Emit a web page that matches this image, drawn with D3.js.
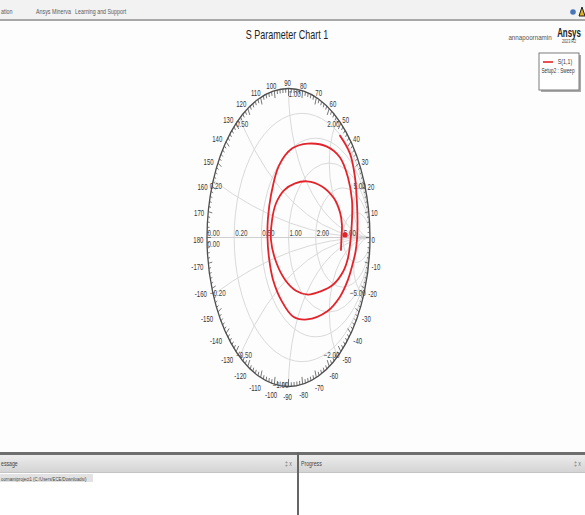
<!DOCTYPE html>
<html>
<head>
<meta charset="utf-8">
<script src="https://cdn.jsdelivr.net/npm/d3@7"></script>
<style>
  html, body { margin: 0; padding: 0; background: #ffffff; overflow: hidden; }
  svg { display: block; font-family: "Liberation Sans", Arial, sans-serif; }
</style>
</head>
<body>
<svg id="chart" width="585" height="515"></svg>
<script>
// ---- chart data ----
const chartTitle = "S Parameter Chart 1";
const resistanceCircles = [0.2, 0.5, 1, 2, 5];
const reactanceArcs = [0.2, 0.5, 1, 2, 5];
const angleLabels = d3.range(-170, 181, 10);
const seriesName = "S(1,1)";
const setupName = "Setup2 : Sweep";

// S(1,1) sweep, reflection coefficient (real / imaginary parts)
const traceRe = [0.632, 0.755, 0.816, 0.840, 0.847, 0.840, 0.822, 0.791, 0.730, 0.632,
                 0.472, 0.227, 0.055, -0.080, -0.190, -0.239, -0.258, -0.252, -0.215, -0.117,
                 0.043, 0.239, 0.472, 0.632, 0.730, 0.779, 0.779, 0.761, 0.730, 0.669,
                 0.546, 0.387, 0.239, 0.092, -0.043, -0.153, -0.215, -0.202, -0.153, -0.055,
                 0.080, 0.227, 0.411, 0.558, 0.632, 0.656, 0.650, 0.644];
const traceIm = [0.683, 0.563, 0.403, 0.230, 0.103, -0.017, -0.097, -0.170, -0.283, -0.397,
                 -0.497, -0.550, -0.530, -0.430, -0.283, -0.137, 0.003, 0.130, 0.283, 0.483,
                 0.597, 0.630, 0.610, 0.537, 0.403, 0.250, 0.117, -0.017, -0.137, -0.230,
                 -0.317, -0.363, -0.383, -0.357, -0.283, -0.163, -0.017, 0.117, 0.230, 0.317,
                 0.363, 0.377, 0.343, 0.263, 0.170, 0.083, 0.003, -0.083];
const markerRe = [0.693];
const markerIm = [0.017];

// ---- layout ----
const W = 585, H = 515;
const svg = d3.select("#chart");
const xs = d3.scaleLinear().domain([-1, 1]).range([207, 370]);
const ys = d3.scaleLinear().domain([-1, 1]).range([386.5, 88.5]);
const cx = xs(0), cy = ys(0);
const rx = xs(1) - xs(0), ry = ys(0) - ys(1);
const fmt = d3.format(".2f");

function squeezedText(parent, x, y, str, opt) {
  return parent.append("text")
    .attr("transform", `translate(${x},${y}) scale(${opt.sx || 0.7},1)`)
    .attr("text-anchor", opt.anchor || "start")
    .attr("font-size", opt.size || 9)
    .attr("font-weight", opt.weight || "normal")
    .attr("fill", opt.fill || "#3a3a3a")
    .text(str);
}

// ---- window chrome ----
svg.append("rect").attr("x", 0).attr("y", 0).attr("width", W).attr("height", H).attr("fill", "#fdfdfd");
svg.append("rect").attr("x", 0).attr("y", 0).attr("width", W).attr("height", 20).attr("fill", "#f2f2f2");
svg.append("rect").attr("x", 0).attr("y", 19).attr("width", W).attr("height", 2).attr("fill", "#a8a8a8");
const menu = [["ation", 1], ["Ansys Minerva", 36], ["Learning and Support", 75]];
menu.forEach(([t, x]) => squeezedText(svg, x, 14, t, { size: 6.5, sx: 0.82, fill: "#5a5a5a" }));
svg.append("circle").attr("cx", 573).attr("cy", 12).attr("r", 2.8).attr("fill", "#4a74b8");
svg.append("path").attr("d", "M579,16 L582,7 L585,16 Z").attr("fill", "#e0b020").attr("stroke", "#222").attr("stroke-width", 1);

squeezedText(svg, 287, 39, chartTitle, { size: 12.5, sx: 0.72, anchor: "middle", fill: "#222" });
squeezedText(svg, 530, 40, "annapoornamin", { size: 8, sx: 0.78, anchor: "middle", fill: "#555" });
squeezedText(svg, 569, 37, "Ansys", { size: 12, sx: 0.66, anchor: "middle", weight: "bold", fill: "#222" });
squeezedText(svg, 569, 43, "2023 R2", { size: 5, sx: 0.75, anchor: "middle", fill: "#444" });

// legend
const lg = svg.append("g");
lg.append("rect").attr("x", 541).attr("y", 55).attr("width", 40).attr("height", 37).attr("fill", "#a9a9a9");
lg.append("rect").attr("x", 539).attr("y", 53).attr("width", 40).attr("height", 37).attr("fill", "#fff").attr("stroke", "#7d7d7d").attr("stroke-width", 1);
lg.append("line").attr("x1", 543).attr("x2", 553).attr("y1", 62).attr("y2", 62).attr("stroke", "#e3242b").attr("stroke-width", 1.6);
squeezedText(lg, 565, 64, seriesName, { size: 7, sx: 0.75, anchor: "middle", fill: "#333" });
squeezedText(lg, 558, 73, setupName, { size: 6.5, sx: 0.72, anchor: "middle", fill: "#333" });

// ---- Smith chart ----
const chart = svg.append("g");
svg.append("defs").append("clipPath").attr("id", "unit")
  .append("ellipse").attr("cx", cx).attr("cy", cy).attr("rx", rx).attr("ry", ry);

const grid = chart.append("g").attr("clip-path", "url(#unit)")
  .attr("fill", "none").attr("stroke", "#d9d9d9").attr("stroke-width", 1);

// constant-resistance circles
grid.selectAll("ellipse.r").data(resistanceCircles).join("ellipse").attr("class", "r")
  .attr("cx", r => xs(r / (1 + r)))
  .attr("cy", cy)
  .attr("rx", r => rx / (1 + r))
  .attr("ry", r => ry / (1 + r));

// constant-reactance arcs (positive and negative)
const arcs = reactanceArcs.flatMap(v => [v, -v]);
grid.selectAll("ellipse.x").data(arcs).join("ellipse").attr("class", "x")
  .attr("cx", xs(1))
  .attr("cy", v => ys(1 / v))
  .attr("rx", v => rx / Math.abs(v))
  .attr("ry", v => ry / Math.abs(v));

chart.append("line").attr("x1", xs(-1)).attr("x2", xs(1)).attr("y1", cy).attr("y2", cy)
  .attr("stroke", "#cfcfcf").attr("stroke-width", 1);

// outer boundary with angle ticks
chart.append("ellipse").attr("cx", cx).attr("cy", cy).attr("rx", rx).attr("ry", ry)
  .attr("fill", "none").attr("stroke", "#4d4d4d").attr("stroke-width", 1.3);
const tickDeg = d3.range(0, 360, 2);
chart.append("g").attr("stroke", "#555").attr("stroke-width", 0.8)
  .selectAll("line").data(tickDeg).join("line")
  .each(function (d) {
    const a = d * Math.PI / 180, L = d % 10 === 0 ? 0.05 : 0.028;
    d3.select(this)
      .attr("x1", xs(Math.cos(a))).attr("y1", ys(Math.sin(a)))
      .attr("x2", xs((1 - L) * Math.cos(a))).attr("y2", ys((1 - L) * Math.sin(a)));
  });

// angle labels around the rim
const angG = chart.append("g");
angleLabels.forEach(d => {
  const a = d * Math.PI / 180, t = String(d);
  const hw = 1.7 * t.length;
  const x = 287.5 + (84 + hw + 4 * Math.abs(Math.sin(a))) * Math.cos(a);
  const y = 240 - 157 * Math.sin(a);
  squeezedText(angG, x, y + 3.2, t, { size: 9, sx: 0.67, anchor: "middle", fill: "#333" });
});

// resistance labels on the real axis
const lblG = chart.append("g");
resistanceCircles.forEach(r => {
  const g = (r - 1) / (r + 1);
  squeezedText(lblG, xs(g) + 1, cy - 1.5, fmt(r), { size: 9, sx: 0.7, fill: "#444" });
});
squeezedText(lblG, xs(-1) + 0.5, cy - 1.5, fmt(0), { size: 9, sx: 0.7, fill: "#444" });
squeezedText(lblG, xs(-1) + 0.5, cy + 9.5, fmt(0), { size: 9, sx: 0.7, fill: "#444" });

// reactance labels at the rim
arcs.forEach(v => {
  const re = (v * v - 1) / (v * v + 1), im = 2 * v / (v * v + 1);
  const px = xs(re), py = ys(im);
  const upper = v > 0;
  let anchor, x;
  if (Math.abs(re) < 0.01) { anchor = upper ? "start" : "end"; x = px; }
  else if (re < 0) { anchor = "start"; x = px - 3.5; }
  else { anchor = "end"; x = px + 2; }
  const y = upper ? py + 8.5 : py + 1;
  squeezedText(lblG, x, y, fmt(v), { size: 9, sx: 0.7, anchor, fill: "#444" });
});

// S(1,1) trace
const tracePts = traceRe.map((re, i) => ({ re, im: traceIm[i] }));
chart.append("path").datum(tracePts)
  .attr("fill", "none").attr("stroke", "#e3242b").attr("stroke-width", 1.8)
  .attr("stroke-linejoin", "round").attr("stroke-linecap", "round")
  .attr("d", d3.line().x(d => xs(d.re)).y(d => ys(d.im)).curve(d3.curveCatmullRom.alpha(0.5)));
chart.selectAll("circle.m").data(markerRe.map((re, i) => ({ re, im: markerIm[i] })))
  .join("circle").attr("class", "m")
  .attr("cx", d => xs(d.re)).attr("cy", d => ys(d.im)).attr("r", 2.6).attr("fill", "#e3242b");

// ---- bottom docked panels ----
const dock = svg.append("g");
dock.append("rect").attr("x", 0).attr("y", 473).attr("width", W).attr("height", H - 473).attr("fill", "#ffffff");
const hdr = svg.append("defs").append("linearGradient").attr("id", "hdr").attr("x1", 0).attr("x2", 0).attr("y1", 0).attr("y2", 1);
hdr.append("stop").attr("offset", 0).attr("stop-color", "#ececec");
hdr.append("stop").attr("offset", 1).attr("stop-color", "#d4d4d4");
dock.append("rect").attr("x", 0).attr("y", 455).attr("width", W).attr("height", 17).attr("fill", "url(#hdr)");
dock.append("rect").attr("x", 0).attr("y", 452).attr("width", W).attr("height", 3).attr("fill", "#6e6e6e");
dock.append("line").attr("x1", 0).attr("x2", W).attr("y1", 472.5).attr("y2", 472.5).attr("stroke", "#c4c4c4");
dock.append("rect").attr("x", 297).attr("y", 452).attr("width", 2).attr("height", H - 452).attr("fill", "#666");
squeezedText(dock, 1, 466, "essage", { size: 6.5, sx: 0.8, fill: "#444" });
squeezedText(dock, 301, 466, "Progress", { size: 6.5, sx: 0.8, fill: "#444" });
squeezedText(dock, 285, 466, "\u2021 x", { size: 6.5, sx: 0.8, fill: "#777" });
squeezedText(dock, 574, 466, "\u2021 x", { size: 6.5, sx: 0.8, fill: "#777" });
dock.append("rect").attr("x", 0).attr("y", 474).attr("width", 93).attr("height", 8).attr("fill", "#e2e2e2");
squeezedText(dock, 1, 480.5, "oornamiproject1 (C:/Users/ECE/Downloads/)", { size: 6, sx: 0.72, fill: "#444" });
</script>
</body>
</html>
